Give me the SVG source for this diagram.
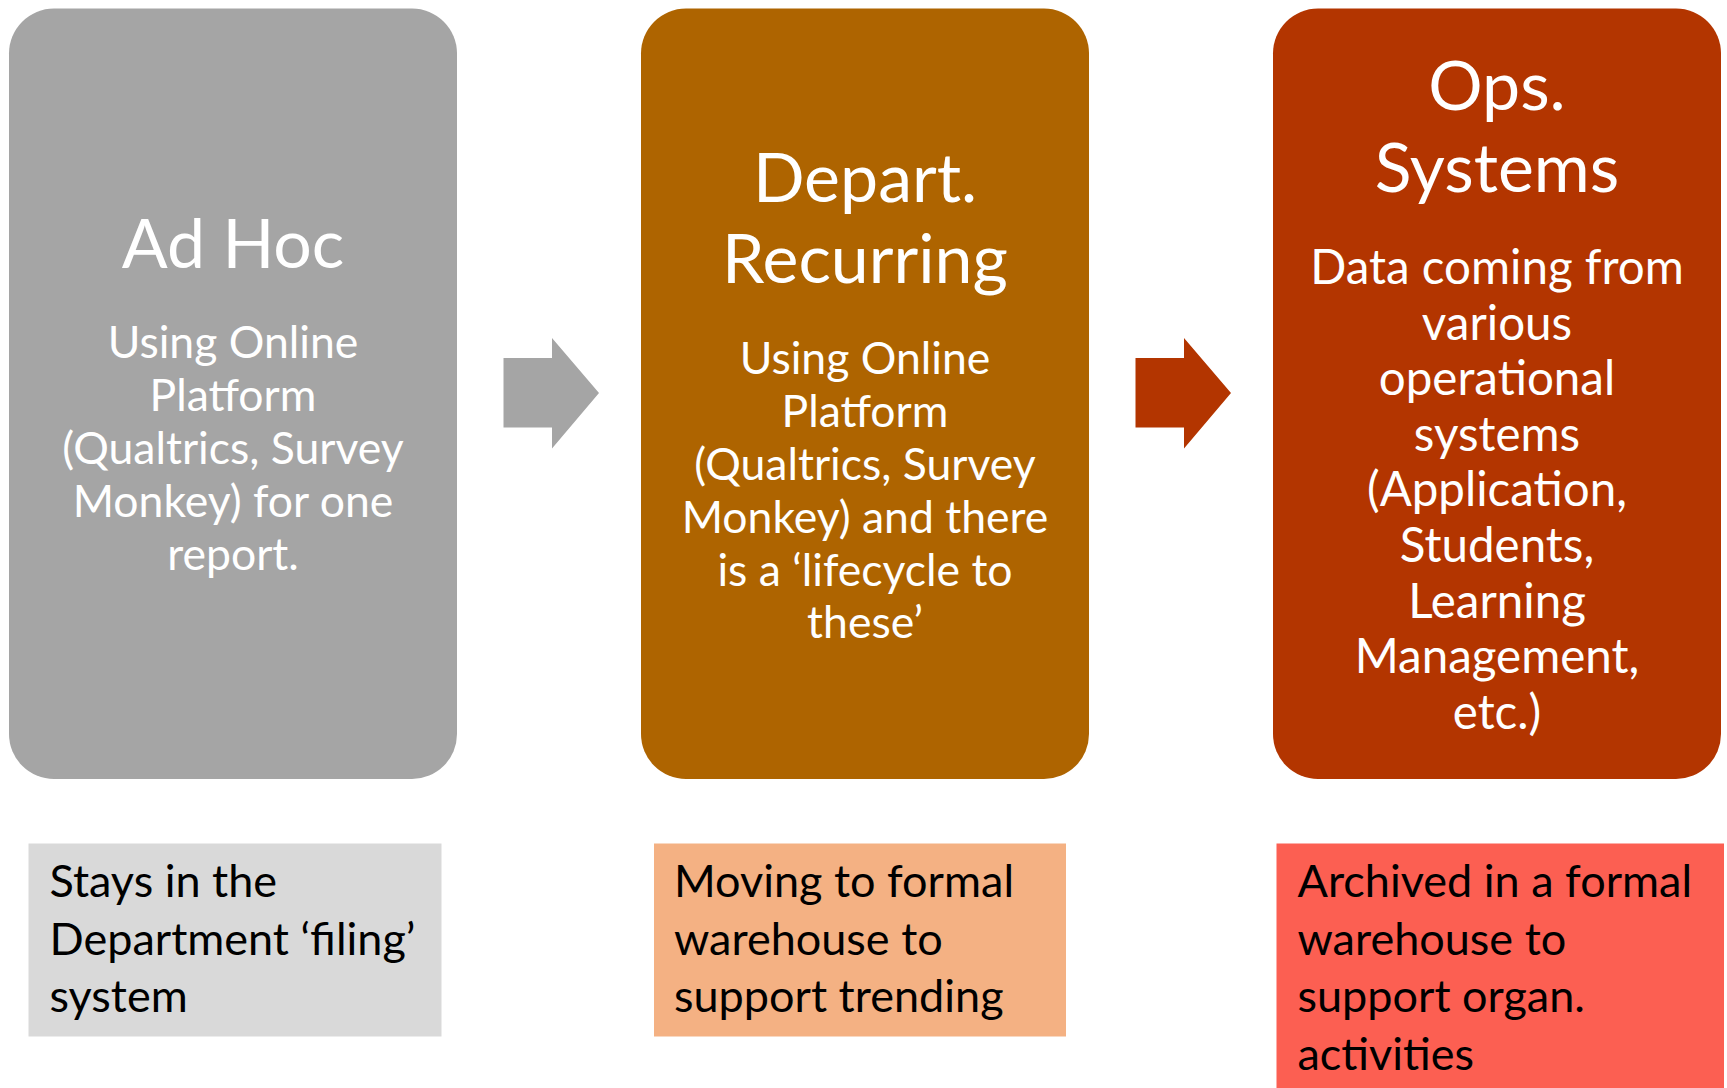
<svg xmlns="http://www.w3.org/2000/svg" width="1727" height="1088" viewBox="0 0 1727 1088">
<style>
.t{font-family:Lato,"Open Sans","Liberation Sans",sans-serif;fill:#fff;text-anchor:middle}
.title{font-size:68px}
.body{font-size:44.5px}
.body3{font-size:47.5px}
.note{font-family:Lato,"Open Sans","Liberation Sans",sans-serif;font-size:45px;fill:#000}
</style>
<rect width="1727" height="1088" fill="#fff"/>
<g id="connectors">
<polygon points="503.5,358 552,358 552,338 599,393 552,448.5 552,427.5 503.5,427.5" fill="#A5A5A5"/>
<polygon points="1135.5,358 1184,358 1184,338 1231,393 1184,448.5 1184,427.5 1135.5,427.5" fill="#B33500"/>
</g>
<g id="node-adhoc">
<rect x="9" y="8.5" width="448" height="770.5" rx="45" fill="#A5A5A5"/>
<text class="t title" x="233" y="267.5">Ad Hoc</text>
<text class="t body" x="233" y="358">Using Online</text>
<text class="t body" x="233" y="411">Platform</text>
<text class="t body" x="233" y="464">(Qualtrics, Survey</text>
<text class="t body" x="233" y="517">Monkey) for one</text>
<text class="t body" x="233" y="570">report.</text>
</g>
<g id="node-depart">
<rect x="641" y="8.5" width="448" height="770.5" rx="45" fill="#AE6400"/>
<text class="t title" x="865" y="201.5">Depart.</text>
<text class="t title" x="865" y="283">Recurring</text>
<text class="t body" x="865" y="373.5">Using Online</text>
<text class="t body" x="865" y="426.5">Platform</text>
<text class="t body" x="865" y="479.5">(Qualtrics, Survey</text>
<text class="t body" x="865" y="532.5">Monkey) and there</text>
<text class="t body" x="865" y="585.5">is a ‘lifecycle to</text>
<text class="t body" x="865" y="638">these’</text>
</g>
<g id="node-ops">
<rect x="1273" y="8.5" width="448" height="770.5" rx="45" fill="#B33500"/>
<text class="t title" x="1497" y="110">Ops.</text>
<text class="t title" x="1497" y="191.5">Systems</text>
<text class="t body3" x="1497" y="284">Data coming from</text>
<text class="t body3" x="1497" y="339.6">various</text>
<text class="t body3" x="1497" y="395.2">operational</text>
<text class="t body3" x="1497" y="450.8">systems</text>
<text class="t body3" x="1497" y="506.4">(Application,</text>
<text class="t body3" x="1497" y="562">Students,</text>
<text class="t body3" x="1497" y="617.6">Learning</text>
<text class="t body3" x="1497" y="673.2">Management,</text>
<text class="t body3" x="1497" y="728.8">etc.)</text>
</g>
<g id="note-adhoc">
<rect x="28.5" y="843.5" width="413" height="193" fill="#D9D9D9"/>
<text class="note" x="49.5" y="897">Stays in the</text>
<text class="note" x="49.5" y="954.5">Department ‘filing’</text>
<text class="note" x="49.5" y="1012">system</text>
</g>
<g id="note-depart">
<rect x="654" y="843.5" width="412" height="193" fill="#F4B183"/>
<text class="note" x="674" y="897">Moving to formal</text>
<text class="note" x="674" y="954.5">warehouse to</text>
<text class="note" x="674" y="1012">support trending</text>
</g>
<g id="note-ops">
<rect x="1276.5" y="843.5" width="447.5" height="245" fill="#FC5F52"/>
<text class="note" x="1297.5" y="897">Archived in a formal</text>
<text class="note" x="1297.5" y="954.5">warehouse to</text>
<text class="note" x="1297.5" y="1012">support organ.</text>
<text class="note" x="1297.5" y="1069.5">activities</text>
</g>
</svg>
